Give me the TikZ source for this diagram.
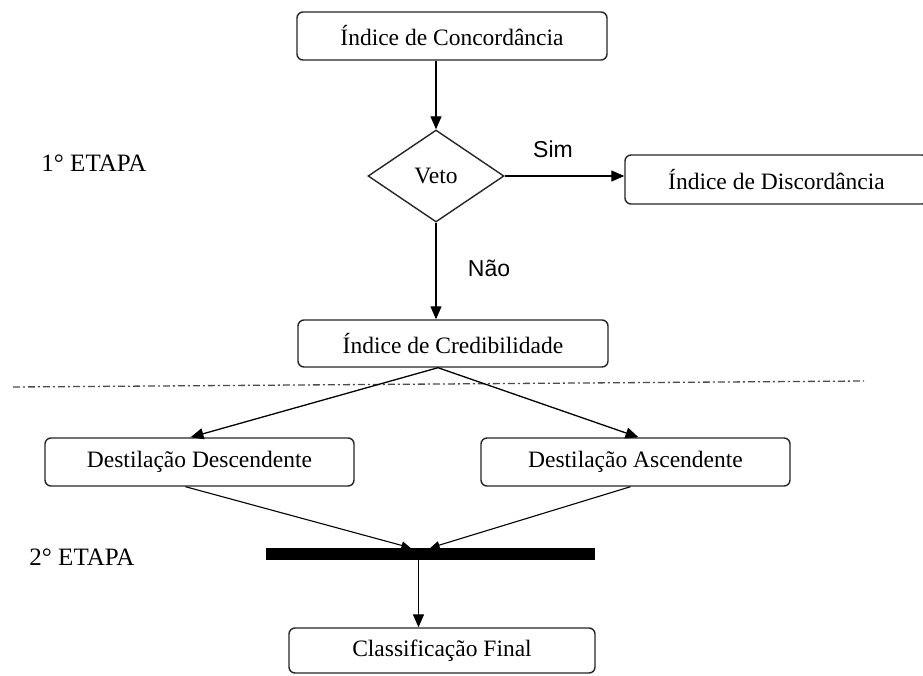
\documentclass[tikz,border=0pt]{standalone}
\usepackage{fontspec}
\setmainfont{Liberation Serif}
\newfontfamily\lsans{Liberation Sans}
\usetikzlibrary{shapes.geometric,arrows.meta}
\begin{document}
\begin{tikzpicture}[x=1pt,y=-1pt,
  font=\fontsize{23.5}{27}\selectfont,
  boxnode/.style={draw=black!85, line width=1.4pt, rounded corners=6pt, inner sep=0pt, fill=white},
  arr/.style={draw=black, line width=1.3pt, -{Triangle[length=13pt,width=11pt]}},
  smallarr/.style={draw=black, line width=1.1pt, -{Triangle[length=9pt,width=8pt]}},
  lbl/.style={inner sep=0pt, anchor=center},
  sanslbl/.style={lbl, font=\lsans\fontsize{23}{27}\selectfont}
]
\clip (0,0) rectangle (923,675);
\fill[white] (0,0) rectangle (923,675);

% nodes
\node[boxnode, minimum width=310pt, minimum height=48pt] (conc) at (452,36) {Índice de Concordância};
\node[draw=black!85, line width=1.4pt, diamond, inner sep=0pt, aspect=1.48, minimum width=136pt, minimum height=92pt] (veto) at (436,176) {Veto};
\node[boxnode, minimum width=303pt, minimum height=49pt] (disc) at (776.5,179.5) {Índice de Discordância};
\node[boxnode, minimum width=310pt, minimum height=47pt] (cred) at (453,343.5) {Índice de Credibilidade};
\node[boxnode, minimum width=309pt, minimum height=48pt] (desc) at (199.5,462) {Destilação Descendente};
\node[boxnode, minimum width=309pt, minimum height=48pt] (asc) at (635.5,462) {Destilação Ascendente};
\node[fill=black, inner sep=0pt, minimum width=329pt, minimum height=12pt] (bar) at (430.5,554) {};
\node[boxnode, minimum width=306pt, minimum height=45pt] (final) at (442,650.5) {Classificação Final};

% labels
\node[lbl, font=\fontsize{25}{29}\selectfont] (et1) at (94,163) {1° ETAPA};
\node[lbl, font=\fontsize{25}{29}\selectfont] (et2) at (82,557) {2° ETAPA};
\node[sanslbl] (sim) at (553,149) {Sim};
\node[sanslbl] (nao) at (489,268) {Não};

% separator
\coordinate (sepL) at (13,387);
\coordinate (sepR) at (864,381);
\draw[draw=black!70, line width=1.3pt, dash pattern=on 7pt off 3pt on 2pt off 3pt] (sepL) -- (sepR);

% connectors
\coordinate (barout) at ([xshift=-12pt]bar.south);
\draw[arr] (conc.south -| veto.north) -- (veto.north);
\draw[arr] (veto.east) -- (disc.west |- veto.east);
\draw[arr] (veto.south) -- (cred.north -| veto.south);
\draw[arr] ([xshift=-15pt]cred.south) -- ([xshift=-9pt]desc.north);
\draw[arr] ([xshift=-15pt]cred.south) -- ([xshift=3pt]asc.north);
\draw[smallarr] ([xshift=-14pt]desc.south) -- ([xshift=-20pt]bar.north);
\draw[smallarr] ([xshift=-5pt]asc.south) -- ([xshift=0pt]bar.north);
\draw[arr] (barout) -- (final.north -| barout);
\end{tikzpicture}
\end{document}
